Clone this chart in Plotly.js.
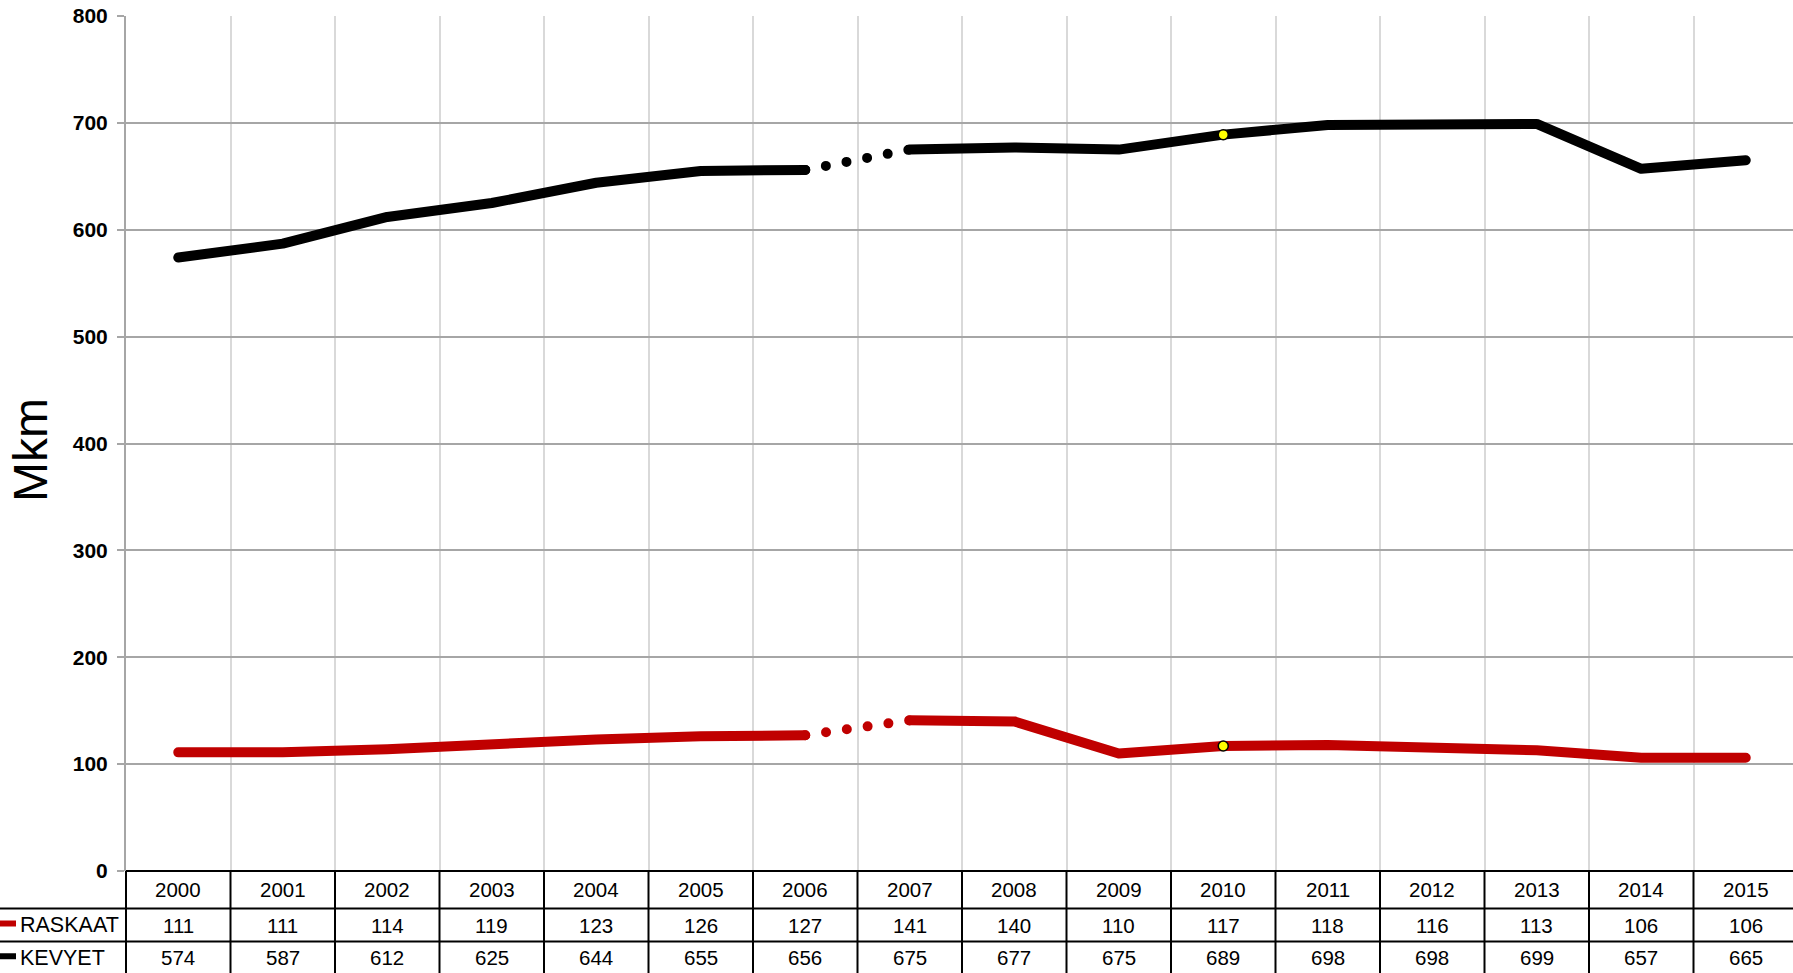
<!DOCTYPE html>
<html>
<head>
<meta charset="utf-8">
<script src="https://cdn.plot.ly/plotly-3.0.1.min.js"></script>
<style>
  html, body { margin: 0; padding: 0; background: #fff; }
  #chart { width: 1793px; height: 973px; }
  .scatterlayer path.js-line { stroke-linecap: round !important; stroke-linejoin: round !important; }
  .shapelayer path { stroke-linecap: butt; }
</style>
</head>
<body>
<div id="chart"></div>
<script>
// ---- Data ----
const years = ['2000','2001','2002','2003','2004','2005','2006','2007','2008','2009','2010','2011','2012','2013','2014','2015'];
const raskaat = [111,111,114,119,123,126,127,141,140,110,117,118,116,113,106,106];
const kevyet  = [574,587,612,625,644,655,656,675,677,675,689,698,698,699,657,665];
const seriesNames = ['RASKAAT','KEVYET'];
const yTicks = [0,100,200,300,400,500,600,700,800];
const breakStart = 6;   // 2006 -> 2007 drawn dotted
const highlightIdx = 10; // 2010 yellow marker

// ---- Styles / geometry ----
const W = 1793, H = 973;
const M = {l: 126, r: 0, t: 16, b: 102};
const plotW = W - M.l - M.r, plotH = H - M.t - M.b;
const catW = 104.5;
const xr = [-0.5, -0.5 + plotW / catW];
const FONT = 'Liberation Sans, Arial, Helvetica, sans-serif';
const RED = '#c00000', BLACK = '#000000';
const colors = [RED, BLACK];
const seriesVals = [raskaat, kevyet];

const idx = years.map((_, i) => i);
const pxX = px => (px - M.l) / plotW;          // page px -> paper x
const pxY = py => (H - M.b - py) / plotH;      // page px -> paper y
const idxX = v => (v - xr[0]) / (xr[1] - xr[0]); // category index -> paper x

// table rows (page px)
const rowTop = H - M.b, row1 = 908.5, row2 = 941.5;
const headerC = (rowTop + row1) / 2, r1C = (row1 + row2) / 2, r2C = (row2 + H) / 2 + 0.5;
const rowCenters = [r1C, r2C];

const traces = [];
seriesVals.forEach((vals, s) => {
  const c = colors[s];
  traces.push({x: idx.slice(0, breakStart + 1), y: vals.slice(0, breakStart + 1), mode: 'lines',
    line: {color: c, width: 10}, hoverinfo: 'skip'});
  traces.push({x: idx.slice(breakStart, breakStart + 2), y: vals.slice(breakStart, breakStart + 2), mode: 'lines',
    line: {color: c, width: 10, dash: '0px,21px'}, hoverinfo: 'skip'});
  traces.push({x: idx.slice(breakStart + 1), y: vals.slice(breakStart + 1), mode: 'lines',
    line: {color: c, width: 10}, hoverinfo: 'skip'});
});
seriesVals.forEach(vals => {
  traces.push({x: [highlightIdx], y: [vals[highlightIdx]], mode: 'markers',
    marker: {color: '#ffff00', size: 10, line: {color: '#000', width: 1.5}}, hoverinfo: 'skip'});
});

const annotations = [];
years.forEach((yr, i) => {
  annotations.push({xref: 'x', yref: 'paper', x: i, y: pxY(headerC), text: yr, showarrow: false,
    xanchor: 'center', yanchor: 'middle', font: {family: FONT, size: 20.5, color: '#000'}});
  seriesVals.forEach((vals, s) => {
    annotations.push({xref: 'x', yref: 'paper', x: i, y: pxY(rowCenters[s]), text: String(vals[i]), showarrow: false,
      xanchor: 'center', yanchor: 'middle', font: {family: FONT, size: 20.5, color: '#000'}});
  });
});
seriesNames.forEach((nm, s) => {
  annotations.push({xref: 'paper', yref: 'paper', x: pxX(18), y: pxY(rowCenters[s]), text: nm, showarrow: false,
    xanchor: 'left', yanchor: 'middle', font: {family: FONT, size: 21.5, color: '#000'}});
});
annotations.push({xref: 'paper', yref: 'paper', x: pxX(31), y: pxY(450), text: 'Mkm', showarrow: false,
  textangle: -90, xanchor: 'center', yanchor: 'middle', font: {family: FONT, size: 48, color: '#000'}});

const shapes = [];
const tl = {color: '#000', width: 2};
// table horizontal lines
shapes.push({type: 'line', xref: 'paper', yref: 'paper', x0: 0, x1: 1, y0: pxY(rowTop), y1: pxY(rowTop), line: tl});
[row1, row2].forEach(r => shapes.push({type: 'line', xref: 'paper', yref: 'paper', x0: pxX(0), x1: 1, y0: pxY(r), y1: pxY(r), line: tl}));
// table vertical lines at category boundaries
for (let i = 0; i < years.length; i++) {
  const xb = idxX(i - 0.5);
  shapes.push({type: 'line', xref: 'paper', yref: 'paper', x0: xb, x1: xb, y0: pxY(rowTop), y1: pxY(H + 2), line: tl});
}
// legend keys
seriesNames.forEach((nm, s) => {
  shapes.push({type: 'line', xref: 'paper', yref: 'paper', x0: pxX(0), x1: pxX(16), y0: pxY(rowCenters[s] - 1.5), y1: pxY(rowCenters[s] - 1.5),
    line: {color: colors[s], width: 6}});
});

const boundaries = [];
for (let i = 0; i <= years.length; i++) boundaries.push(i - 0.5);

const layout = {
  width: W, height: H,
  margin: M,
  paper_bgcolor: '#fff', plot_bgcolor: '#fff',
  showlegend: false,
  xaxis: {range: xr, tickmode: 'array', tickvals: boundaries, showticklabels: false, ticks: '',
    showgrid: true, gridcolor: '#d9d9d9', gridwidth: 2, zeroline: false, showline: false, fixedrange: true},
  yaxis: {range: [0, 800], tickmode: 'array', tickvals: yTicks, ticktext: yTicks.map(String),
    showgrid: true, gridcolor: '#a6a6a6', gridwidth: 2, zeroline: false,
    showline: true, linecolor: '#a6a6a6', linewidth: 2,
    ticks: 'outside', ticklen: 7, tickwidth: 2, tickcolor: '#a6a6a6', ticklabelstandoff: 5,
    tickfont: {family: FONT, size: 21, weight: 'bold', color: '#000'}, fixedrange: true},
  annotations: annotations,
  shapes: shapes
};

Plotly.newPlot('chart', traces, layout, {staticPlot: true, displayModeBar: false});
</script>
</body>
</html>
